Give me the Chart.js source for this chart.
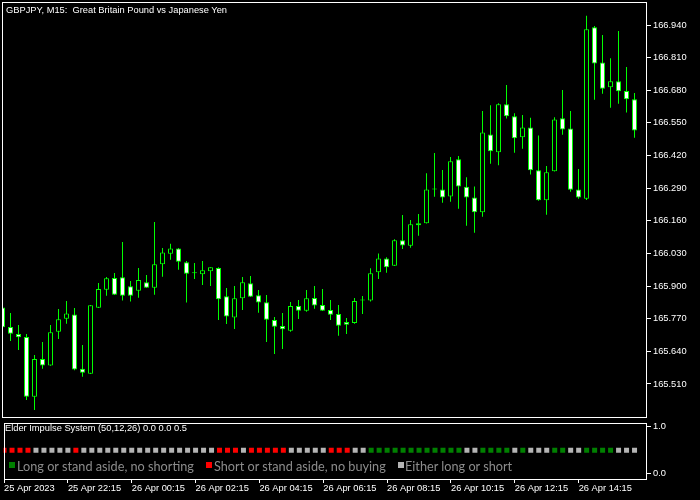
<!DOCTYPE html>
<html><head><meta charset="utf-8">
<script src="https://cdn.jsdelivr.net/npm/chart.js@4.4.1/dist/chart.umd.min.js"></script>
<style>
html,body{margin:0;padding:0;background:#000;}
#wrap{position:relative;width:700px;height:500px;overflow:hidden;background:#000;}
canvas{position:absolute;left:0;}
#cMain{top:0;width:700px;height:420px;}
#cInd{top:419px;width:700px;height:81px;}
.t{position:absolute;white-space:pre;font-family:'Liberation Sans',Arial,sans-serif;font-size:9.3px;line-height:12px;color:#fff;}
.lg{position:absolute;white-space:pre;font-family:Lato,sans-serif;font-size:12.7px;line-height:14px;color:#8c8c8c;}
.sq{position:absolute;width:6px;height:6px;}
</style></head>
<body><div id="wrap">
<canvas id="cMain" width="700" height="420"></canvas>
<canvas id="cInd" width="700" height="81"></canvas>
<div class="t" style="left:6px;top:4px">GBPJPY, M15:  Great Britain Pound vs Japanese Yen</div>
<div class="t" style="left:5px;top:422px">Elder Impulse System (50,12,26) 0.0 0.0 0.5</div>
<div class="sq" style="left:9px;top:462px;background:#008000"></div>
<div class="lg" style="left:17px;top:459px">Long or stand aside, no shorting</div>
<div class="sq" style="left:206px;top:462px;background:#ff0000"></div>
<div class="lg" style="left:214px;top:459px">Short or stand aside, no buying</div>
<div class="sq" style="left:398px;top:462px;background:#b4b4b4"></div>
<div class="lg" style="left:405px;top:459px">Either long or short</div>
</div>
<script>
// ---- data ----
const opens = [165.815,165.737,165.709,165.697,165.459,165.609,165.583,165.718,165.770,165.787,
165.570,165.551,165.814,165.885,165.932,165.935,165.899,165.881,165.915,165.893,
165.987,166.029,166.050,165.995,165.951,165.947,165.959,165.972,165.859,165.775,
165.851,165.911,165.863,165.835,165.765,165.741,165.722,165.820,165.802,165.852,
165.824,165.805,165.789,165.757,165.753,165.842,165.842,165.955,166.010,165.981,
166.082,166.061,166.142,166.150,166.285,166.285,166.257,166.405,166.296,166.253,
166.194,166.504,166.433,166.624,166.576,166.493,166.532,166.361,166.242,166.357,
166.568,166.528,166.285,166.248,166.931,166.791,166.692,166.716,166.677,166.644];
const highs = [165.820,165.793,165.745,165.709,165.625,165.677,165.745,165.809,165.840,165.813,
165.665,165.824,165.912,165.936,165.952,166.075,165.920,165.972,165.944,166.155,
166.052,166.068,166.052,166.000,165.992,166.000,165.975,165.975,165.892,165.900,
165.936,165.940,165.884,165.864,165.777,165.793,165.836,165.844,165.884,165.900,
165.888,165.844,165.824,165.773,165.852,165.860,165.971,166.030,166.015,166.086,
166.183,166.163,166.187,166.349,166.430,166.362,166.414,166.418,166.333,166.297,
166.597,166.620,166.628,166.701,166.588,166.581,166.570,166.500,166.378,166.572,
166.681,166.597,166.366,166.977,166.936,166.900,166.808,166.916,166.773,166.669];
const lows = [165.729,165.681,165.645,165.446,165.406,165.570,165.582,165.689,165.750,165.565,
165.539,165.550,165.813,165.861,165.864,165.842,165.838,165.853,165.892,165.865,
165.937,166.005,165.965,165.834,165.928,165.904,165.900,165.765,165.749,165.729,
165.805,165.856,165.794,165.677,165.629,165.649,165.718,165.769,165.798,165.810,
165.801,165.765,165.702,165.709,165.750,165.789,165.838,165.928,165.953,165.980,
166.048,166.053,166.100,166.149,166.256,166.232,166.236,166.208,166.140,166.112,
166.176,166.387,166.381,166.567,166.431,166.447,166.344,166.240,166.184,166.356,
166.503,166.276,166.248,166.243,166.642,166.666,166.610,166.626,166.591,166.491];
const closes = [165.736,165.710,165.696,165.459,165.609,165.583,165.716,165.768,165.791,165.567,
165.555,165.823,165.888,165.931,165.865,165.861,165.861,165.924,165.893,165.987,
166.034,166.050,165.997,165.949,165.951,165.963,165.975,165.847,165.779,165.851,
165.915,165.857,165.834,165.766,165.738,165.728,165.820,165.802,165.851,165.822,
165.802,165.786,165.742,165.746,165.840,165.842,165.951,166.010,165.975,166.082,
166.062,166.146,166.150,166.285,166.285,166.253,166.397,166.297,166.253,166.194,
166.512,166.437,166.624,166.576,166.489,166.532,166.361,166.242,166.353,166.564,
166.524,166.284,166.253,166.923,166.787,166.686,166.716,166.676,166.644,166.520];
// Elder impulse state per bar: G = long/stand aside, R = short/stand aside, N = either
const impulse = ['R','R','R','R','N','N','N','N','N','R',
'N','N','N','N','N','N','N','N','N','N',
'N','N','N','N','N','N','N','R','R','R',
'N','R','R','R','R','R','N','N','N','N',
'N','R','R','R','N','N','G','G','G','G',
'G','G','G','G','G','G','G','G','N','N',
'G','G','G','G','N','G','N','N','N','G',
'G','N','N','G','G','G','G','N','N','N'];
const impulseLevel = 0.5;
const priceTicks = [165.51,165.64,165.77,165.90,166.03,166.16,166.29,166.42,166.55,166.68,166.81,166.94];
const indTicks = [0, 1];
const timeTickIndex = [0,8,16,24,32,40,48,56,64,72];
const timeTickLabels = ['25 Apr 2023','25 Apr 22:15','26 Apr 00:15','26 Apr 02:15','26 Apr 04:15',
'26 Apr 06:15','26 Apr 08:15','26 Apr 10:15','26 Apr 12:15','26 Apr 14:15'];

// ---- styles ----
const LIME = '#00ff00';
const stateColor = {G:'#008000', R:'#ff0000', N:'#b4b4b4'};
const axisFont = {family:"'Liberation Sans', Arial, sans-serif", size:9.3};
const xMin = -0.0625, xMax = 80.4375;

const bodyData = opens.map((o,i)=>({x:i, y:[o, closes[i]]}));
const wickData = lows.map((l,i)=>({x:i, y:[l, highs[i]]}));
const bodyFill = opens.map((o,i)=> closes[i] >= o ? '#000000' : '#ffffff');

const framePlugin = {
  id:'frame',
  afterDatasetsDraw(chart){
    const a = chart.chartArea, ctx = chart.ctx;
    ctx.save();
    ctx.strokeStyle = '#ffffff'; ctx.lineWidth = 1;
    ctx.strokeRect(Math.round(a.left)+0.5, Math.round(a.top)+0.5, Math.round(a.right-a.left), Math.round(a.bottom-a.top));
    ctx.restore();
  }
};
const fitY = s => { s.width = 54; s.paddingTop = 0; s.paddingBottom = 0; };
const fitX = s => { s.height = 21; s.paddingLeft = 0; s.paddingRight = 0; };

new Chart(document.getElementById('cMain'), {
  type:'bar',
  data:{datasets:[
    {label:'body', data:bodyData, backgroundColor:bodyFill, borderColor:LIME, borderWidth:1, borderSkipped:false,
     barThickness:5, grouped:false, minBarLength:1, inflateAmount:0, clip:0, order:0},
    {label:'wick', data:wickData, backgroundColor:LIME, borderWidth:0, barThickness:1, grouped:false,
     inflateAmount:0, clip:0, order:1}
  ]},
  options:{
    responsive:false, animation:false, events:[], devicePixelRatio:1,
    layout:{padding:{left:2, top:2, right:0, bottom:3}},
    plugins:{legend:{display:false}, tooltip:{enabled:false}},
    scales:{
      x:{type:'linear', display:false, min:xMin, max:xMax, offset:false},
      y:{type:'linear', position:'right', min:165.37825, max:167.03164,
         afterFit:fitY,
         afterBuildTicks:s=>{s.ticks = priceTicks.map(v=>({value:v}));},
         ticks:{color:'#ffffff', font:axisFont, padding:2, autoSkip:false, callback:v=>Number(v).toFixed(3)},
         grid:{drawOnChartArea:false, drawTicks:true, tickLength:5, color:'#ffffff', lineWidth:1},
         border:{display:false}}
    }
  },
  plugins:[framePlugin]
});

new Chart(document.getElementById('cInd'), {
  type:'scatter',
  data:{datasets:[{
    label:'impulse',
    data:impulse.map((s,i)=>({x:i, y:impulseLevel})),
    pointStyle:'rect', pointRadius:3.5355, pointHoverRadius:3.5355,
    pointBackgroundColor:impulse.map(s=>stateColor[s]), pointBorderWidth:0,
    showLine:false, clip:0
  }]},
  options:{
    responsive:false, animation:false, events:[], devicePixelRatio:1,
    layout:{padding:{left:2, top:0, right:0, bottom:0}},
    plugins:{legend:{display:false}, tooltip:{enabled:false}},
    scales:{
      x:{type:'linear', position:'bottom', min:xMin, max:xMax, offset:false,
         afterFit:fitX,
         afterBuildTicks:s=>{s.ticks = timeTickIndex.map(v=>({value:v}));},
         ticks:{color:'#ffffff', font:axisFont, align:'start', padding:0, maxRotation:0, minRotation:0, autoSkip:false,
                callback:(v,i)=>timeTickLabels[i]},
         grid:{drawOnChartArea:false, drawTicks:true, tickLength:4, color:'#ffffff', lineWidth:1},
         border:{display:false}},
      y:{type:'linear', position:'right', min:-0.11, max:1.09,
         afterFit:fitY,
         afterBuildTicks:s=>{s.ticks = indTicks.map(v=>({value:v}));},
         ticks:{color:'#ffffff', font:axisFont, padding:2, autoSkip:false, callback:v=>Number(v).toFixed(1)},
         grid:{drawOnChartArea:false, drawTicks:true, tickLength:5, color:'#ffffff', lineWidth:1},
         border:{display:false}}
    }
  },
  plugins:[framePlugin]
});
</script>
</body></html>
